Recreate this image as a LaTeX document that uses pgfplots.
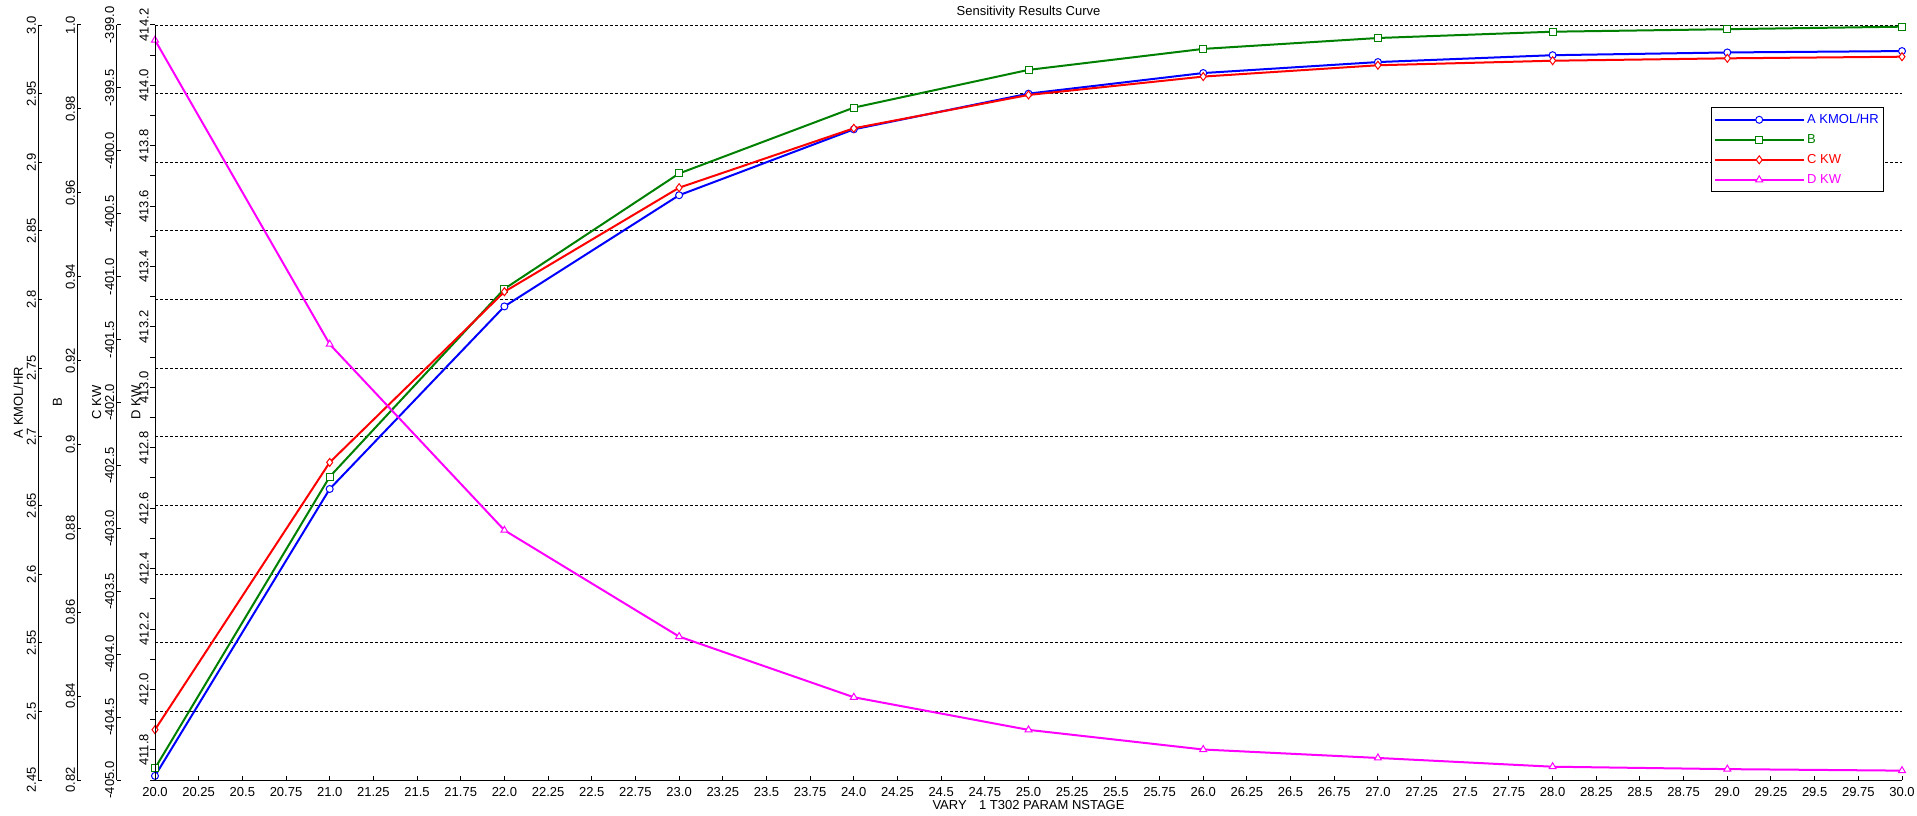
\documentclass[border=0pt]{standalone}
\usepackage{fontspec}
\setmainfont{Liberation Sans}
\usepackage{pgfplots}
\pgfplotsset{compat=1.18}
\definecolor{sblue}{RGB}{0,0,255}
\definecolor{sgreen}{RGB}{0,128,0}
\definecolor{sred}{RGB}{255,0,0}
\definecolor{smag}{RGB}{255,0,255}
\newcommand{\fs}{\fontsize{6.5}{7.8}\selectfont}

% 1 px of the reference = 0.5pt
\pgfplotsset{
  plotarea/.style={scale only axis, width=873.5pt, height=377.5pt,
    at={(77.5pt,17.5pt)}, anchor=south west,
    xmin=20, xmax=30, enlargelimits=false, clip=false},
  hiddenax/.style={plotarea, axis line style={draw=none}, xtick=\empty,
    yticklabel style={opacity=0}, major tick length=0pt},
  scaleax/.style={scale only axis, width=2pt, height=377.5pt, anchor=south west,
    xmin=0, xmax=1, axis x line=none, axis y line*=left, xtick=\empty,
    tick align=inside, major tick length=2pt,
    axis line style={line width=0.5pt, black},
    tick style={line width=0.5pt, black},
    yticklabel style={font=\fs, rotate=90, anchor=south, inner sep=1pt},
    every axis y label/.style={at={(axis description cs:0,0.5)}, xshift=-10pt,
      rotate=90, anchor=center, font=\fs}},
  serA/.style={sblue, line width=1pt, mark=*, mark size=1.75pt,
    mark options={fill=white, line width=0.5pt}},
  serB/.style={sgreen, line width=1pt, mark=square*, mark size=1.75pt,
    mark options={fill=white, line width=0.5pt}},
  serC/.style={sred, line width=1pt, mark=diamond*, mark size=2pt,
    mark options={fill=white, line width=0.5pt}},
  serD/.style={smag, line width=1pt, mark=triangle*, mark size=2pt,
    mark options={fill=white, line width=0.5pt}},
}

\begin{document}
\begin{tikzpicture}
\path[use as bounding box] (0,0) rectangle (958.5pt,407.5pt);

% A KMOL/HR, carries the dashed grid
\begin{axis}[hiddenax, ymin=2.45, ymax=3.0,
  ytick={2.45,2.5,2.55,2.6,2.65,2.7,2.75,2.8,2.85,2.9,2.95,3.0},
  ymajorgrids,
  major grid style={black, line width=0.5pt, dash pattern=on 1.5pt off 1pt}]
\addplot[serA] coordinates {
  (20,2.453) (21,2.662) (22,2.795) (23,2.876) (24,2.924) (25,2.950)
  (26,2.965) (27,2.973) (28,2.978) (29,2.980) (30,2.981)};
\end{axis}

% B
\begin{axis}[hiddenax, ymin=0.82, ymax=1.0, ytick=\empty]
\addplot[serB] coordinates {
  (20,0.8228) (21,0.8923) (22,0.9371) (23,0.9646) (24,0.9803) (25,0.9893)
  (26,0.9943) (27,0.9969) (28,0.9984) (29,0.9990) (30,0.9996)};
\end{axis}

% C KW
\begin{axis}[hiddenax, ymin=-405, ymax=-399, ytick=\empty]
\addplot[serC] coordinates {
  (20,-404.60) (21,-402.476) (22,-401.12) (23,-400.293) (24,-399.821)
  (25,-399.556) (26,-399.41) (27,-399.32) (28,-399.284) (29,-399.265)
  (30,-399.252)};
\end{axis}

% D KW, with x axis, title and legend
\begin{axis}[plotarea, axis x line*=bottom, axis y line=none,
  ymin=411.7, ymax=414.2,
  axis line style={line width=0.5pt, black},
  tick align=inside, major tick length=2pt,
  tick style={line width=0.5pt, black},
  xtick={20,20.25,20.5,20.75,21,21.25,21.5,21.75,22,22.25,22.5,22.75,
    23,23.25,23.5,23.75,24,24.25,24.5,24.75,25,25.25,25.5,25.75,
    26,26.25,26.5,26.75,27,27.25,27.5,27.75,28,28.25,28.5,28.75,
    29,29.25,29.5,29.75,30},
  xticklabels={20.0,20.25,20.5,20.75,21.0,21.25,21.5,21.75,22.0,22.25,22.5,22.75,
    23.0,23.25,23.5,23.75,24.0,24.25,24.5,24.75,25.0,25.25,25.5,25.75,
    26.0,26.25,26.5,26.75,27.0,27.25,27.5,27.75,28.0,28.25,28.5,28.75,
    29.0,29.25,29.5,29.75,30.0},
  xticklabel style={font=\fs},
  title={Sensitivity Results Curve},
  every axis title/.style={at={(axis description cs:0.5,1)}, anchor=base,
    yshift=4.75pt, font=\fs},
  xlabel={VARY\hspace{0.95em}1 T302 PARAM NSTAGE},
  every axis x label/.style={at={(axis description cs:0.5,0)}, anchor=base,
    yshift=-14.65pt, font=\fs},
  legend image code/.code={\draw[mark repeat=2, mark phase=2]
    plot coordinates {(0pt,0pt) (22.25pt,0pt) (44.5pt,0pt)};},
  legend cell align=left,
  legend style={at={(axis description cs:0.8905,0.891)}, anchor=north west,
    draw=black, line width=0.5pt, fill=white, font=\fs,
    inner xsep=1.25pt, inner ysep=1pt, row sep=0pt,
    nodes={inner xsep=1.25pt, inner ysep=1pt, text height=6pt, text depth=2pt}},
]
\addlegendimage{serA}
\addlegendentry{\textcolor{sblue}{A KMOL/HR}}
\addlegendimage{serB}
\addlegendentry{\textcolor{sgreen}{B}}
\addlegendimage{serC}
\addlegendentry{\textcolor{sred}{C KW}}
\addplot[serD] coordinates {
  (20,414.15) (21,413.143) (22,412.527) (23,412.175) (24,411.974) (25,411.866)
  (26,411.801) (27,411.773) (28,411.744) (29,411.736) (30,411.731)};
\addlegendentry{\textcolor{smag}{D KW}}
\end{axis}

% the four y scales on the left
\begin{axis}[scaleax, at={(19.15pt,17.5pt)}, ymin=2.45, ymax=3.0,
  ytick={2.45,2.5,2.55,2.6,2.65,2.7,2.75,2.8,2.85,2.9,2.95,3.0},
  yticklabels={2.45,2.5,2.55,2.6,2.65,2.7,2.75,2.8,2.85,2.9,2.95,3.0},
  ylabel={A KMOL/HR}]
\end{axis}
\begin{axis}[scaleax, at={(38.65pt,17.5pt)}, ymin=0.82, ymax=1.0,
  ytick={0.82,0.84,0.86,0.88,0.9,0.92,0.94,0.96,0.98,1.0},
  yticklabels={0.82,0.84,0.86,0.88,0.9,0.92,0.94,0.96,0.98,1.0},
  ylabel={B}]
\end{axis}
\begin{axis}[scaleax, at={(58.35pt,17.5pt)}, ymin=-405, ymax=-399,
  ytick={-405,-404.5,-404,-403.5,-403,-402.5,-402,-401.5,-401,-400.5,-400,-399.5,-399},
  yticklabels={-405.0,-404.5,-404.0,-403.5,-403.0,-402.5,-402.0,-401.5,-401.0,-400.5,-400.0,-399.5,-399.0},
  ylabel={C KW}]
\end{axis}
\begin{axis}[scaleax, at={(77.5pt,17.5pt)}, ymin=411.7, ymax=414.2,
  tick align=outside, major tick length=2.5pt, minor tick length=2.5pt,
  ytick={411.8,412.0,412.2,412.4,412.6,412.8,413.0,413.2,413.4,413.6,413.8,414.0,414.2},
  yticklabels={411.8,412.0,412.2,412.4,412.6,412.8,413.0,413.2,413.4,413.6,413.8,414.0,414.2},
  minor ytick={411.7,411.9,412.1,412.3,412.5,412.7,412.9,413.1,413.3,413.5,413.7,413.9,414.1},
  yticklabel style={inner sep=0.5pt},
  ylabel={D KW},
  every axis y label/.style={at={(axis description cs:0,0.5)}, xshift=-9.5pt,
    rotate=90, anchor=center, font=\fs}]
\end{axis}
\end{tikzpicture}
\end{document}
